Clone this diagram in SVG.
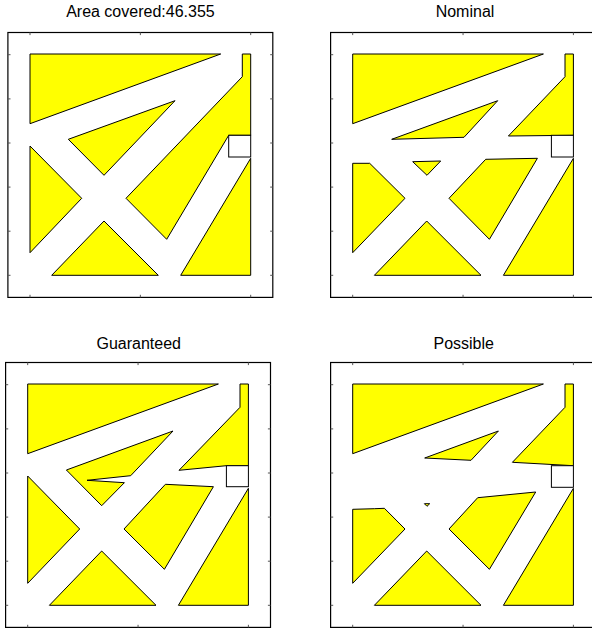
<svg xmlns="http://www.w3.org/2000/svg" width="592" height="630" viewBox="0 0 592 630">
<style>
.t{font-family:"Liberation Sans",Arial,sans-serif;font-size:16px;fill:#000;text-anchor:middle}
.y{fill:#ffff00;stroke:#000;stroke-width:1;stroke-linejoin:miter}
.sq{fill:#fff;stroke:#000;stroke-width:1}
.fr{fill:none;stroke:#000;stroke-width:1.2}
.tk{stroke:#555;stroke-width:1}
</style>
<defs>
<g id="axes">
<rect class="fr" x="7.9" y="32.5" width="264.9" height="264.9"/>
<path class="tk" d="M30,297.4v-2.6M140.35,297.4v-2.6M250.7,297.4v-2.6M30,32.5v2.6M140.35,32.5v2.6M250.7,32.5v2.6M7.9,275.3h2.6M7.9,231.2h2.6M7.9,187.1h2.6M7.9,143h2.6M7.9,98.9h2.6M7.9,54.7h2.6M272.8,275.3h-2.6M272.8,231.2h-2.6M272.8,187.1h-2.6M272.8,143h-2.6M272.8,98.9h-2.6M272.8,54.7h-2.6"/>
</g>
<g id="common">
<polygon class="y" points="30,54 220.7,54 30,123.7"/>
<polygon class="y" points="250.7,158.3 250.7,275.3 180.7,275.3"/>
<polygon class="y" points="51.7,275.3 104,221 158.3,275.3"/>
</g>
</defs>
<text class="t" x="140.4" y="17">Area covered:46.355</text>
<text class="t" x="465" y="17">Nominal</text>
<text class="t" x="138.7" y="349">Guaranteed</text>
<text class="t" x="463.7" y="349">Possible</text>
<g id="panel-area">
<use href="#common"/>
<polygon class="y" points="242.3,54 250.7,54 250.7,135.3 228.7,135.3 166.7,239.3 126,198.3 242.3,76.7"/>
<rect class="sq" x="228.7" y="135.3" width="22" height="21.7"/>
<polygon class="y" points="68.3,139.3 175,100.7 104,175.3"/>
<polygon class="y" points="30,146 81.7,198.3 30,252.7"/>
<use href="#axes"/>
</g>
<g id="panel-nominal" transform="translate(322.7,0)">
<use href="#common"/>
<polygon class="y" points="242.3,54 250.7,54 250.7,135.3 185.7,136 242.3,76.7"/>
<rect class="sq" x="228.7" y="135.3" width="22" height="21.7"/>
<polygon class="y" points="69,139.3 175,100.7 141.3,137.3"/>
<polygon class="y" points="90,161.7 118,161 104.3,175.3"/>
<polygon class="y" points="30,163.3 47,163.3 82.3,198.3 30,252.7"/>
<polygon class="y" points="163,159.3 214.7,158.3 166.7,239.3 126.3,198.3"/>
<use href="#axes"/>
</g>
<g id="panel-guaranteed" transform="translate(-2.3,330)">
<use href="#common"/>
<polygon class="y" points="242.3,54 250.7,54 250.7,135.7 228.7,135.7 181.3,140.3 242.3,77.3"/>
<rect class="sq" x="228.7" y="135.7" width="22" height="21"/>
<polygon class="y" points="68.7,140 175.3,101 133,145.7 89.3,150.3 126.7,152.7 104,175.7"/>
<polygon class="y" points="30,146 82,199 30,253.3"/>
<polygon class="y" points="167.7,154.3 215.7,156.7 166.7,239.3 126.3,199"/>
<use href="#axes"/>
</g>
<g id="panel-possible" transform="translate(322.7,330)">
<use href="#common"/>
<polygon class="y" points="242.3,54 250.7,54 250.7,135.7 189.7,132.3 242.3,77.3"/>
<rect class="sq" x="228.7" y="135.7" width="22" height="21.6"/>
<polygon class="y" points="102,128 175.7,101 148.3,130.3"/>
<polygon class="y" points="101.7,173.7 107,173.7 104.3,176.3"/>
<polygon class="y" points="30,179.3 52,178.7 61.7,178.3 82.3,199 30,253.3"/>
<polygon class="y" points="155,167.7 213,162 166.7,239.3 126.3,199"/>
<use href="#axes"/>
</g>
</svg>
